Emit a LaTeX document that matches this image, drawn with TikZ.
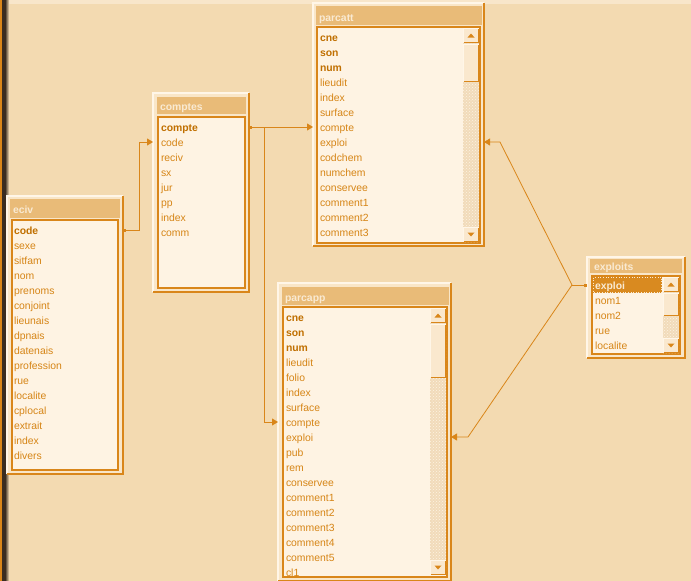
\documentclass[tikz,border=0pt]{standalone}
\usepackage{fontspec}
\newfontfamily\tbfont{Liberation Sans}
\usetikzlibrary{arrows.meta,patterns}
\definecolor{bgc}{HTML}{F3DAB1}
\definecolor{topc}{HTML}{F8E6CA}
\definecolor{darkc}{HTML}{3A2C20}
\definecolor{linec}{HTML}{D9861A}
\definecolor{framec}{HTML}{F9E6C8}
\definecolor{lightc}{HTML}{FFF6E8}
\definecolor{titlec}{HTML}{E9BB78}
\definecolor{ttltext}{HTML}{F9EAD3}
\definecolor{listc}{HTML}{FEF3E3}
\definecolor{fldc}{HTML}{D68516}
\definecolor{keyc}{HTML}{C06F00}
\definecolor{trackc}{HTML}{F1DBBA}
\definecolor{btnc}{HTML}{FAE8CE}
\definecolor{selc}{HTML}{D98A20}
\tikzset{
 tframe/.style={fill=framec, inner sep=0pt, outer sep=0pt},
 edgelight/.style={draw=lightc, line width=1.5pt},
 edgedark/.style={draw=linec, line width=1.5pt},
 listbox/.style={fill=listc, draw=linec, line width=1.2pt},
 fld/.style={anchor=base west, inner sep=0pt, outer sep=0pt, text height=9pt, text depth=1pt, text=fldc, font=\tbfont\fontsize{10.4}{12}\selectfont},
 keyfld/.style={fld, text=keyc, font=\tbfont\bfseries\fontsize{10.4}{12}\selectfont},
 ttl/.style={fld, text=ttltext, font=\tbfont\bfseries\fontsize{10.4}{12}\selectfont},
 lnk/.style={draw=linec, line width=1pt},
 diag/.style={draw=linec, line width=0.8pt},
 tip/.style={-{Triangle[length=6pt,width=7pt]}},
 tailtip/.style={{Square[length=3pt,width=3pt]}-{Triangle[length=6pt,width=7pt]}},
 tailonly/.style={{Square[length=3pt,width=3pt]}-},
}
\newcommand\dbframe[5]{%
  \node[tframe, minimum width={(#4-#2)*1pt}, minimum height={(#5-#3)*1pt}, anchor=north west] (#1) at (#2,#3) {};
  \draw[edgelight] (#1.south west) -- (#1.north west) -- (#1.north east);
  \draw[edgedark] (#1.south west) -- (#1.south east) -- (#1.north east);
}
\newcommand\sbtn[4]{%
  \fill[btnc] (#1,#3) rectangle (#2,#4);
  \draw[draw=lightc, line width=1pt] (#1+0.5,#4-0.5) -- (#1+0.5,#3+0.5) -- (#2-0.5,#3+0.5);
  \draw[draw=linec, line width=1pt] (#1+0.5,#4-0.5) -- (#2-0.5,#4-0.5) -- (#2-0.5,#3+0.5);
}
\newcommand\sbar[6]{%
  \fill[trackc] (#1,#3) rectangle (#2,#6);
  \fill[pattern=crosshatch dots, pattern color=listc] (#1,#3) rectangle (#2,#6);
  \sbtn{#1}{#2}{#3}{#3+15}
  \fill[linec] ({(#1+#2)/2-3.5},#3+9.5) -- ({(#1+#2)/2+3.5},#3+9.5) -- ({(#1+#2)/2},#3+5.5) -- cycle;
  \sbtn{#1}{#2}{#4}{#5}
  \sbtn{#1}{#2}{#6-15}{#6}
  \fill[linec] ({(#1+#2)/2-3.5},#6-9.5) -- ({(#1+#2)/2+3.5},#6-9.5) -- ({(#1+#2)/2},#6-5.5) -- cycle;
}
\begin{document}
\begin{tikzpicture}[x=1pt,y=-1pt]
\useasboundingbox (0,0) rectangle (691,581);
% background
\fill[bgc] (0,0) rectangle (691,581);
\fill[topc] (0,0) rectangle (691,4);
\fill[linec] (0,0) rectangle (1.5,581);
\fill[darkc] (1.5,0) rectangle (5,581);
\shade[left color=darkc, right color=bgc] (5,0) rectangle (9,581);

% ---------- eciv ----------
\dbframe{eciv}{7}{196}{123}{474}
\fill[titlec] (10,199) rectangle (120,218);
\node[ttl] (eciv-title) at (13,213) {eciv};
\filldraw[listbox] (12,220) rectangle (118,470);
\node[keyfld] (eciv-code) at (14,234) {code};
\foreach \t [count=\i] in {sexe,sitfam,nom,prenoms,conjoint,lieunais,dpnais,datenais,profession,rue,localite,cplocal,extrait,index,divers}
  \node[fld] (eciv-\t) at (14,234+15*\i) {\t};

% ---------- comptes ----------
\dbframe{comptes}{153}{93}{249}{292}
\fill[titlec] (157,97) rectangle (246,114);
\node[ttl] (comptes-title) at (160,110) {comptes};
\filldraw[listbox] (158,117) rectangle (245,288);
\node[keyfld] (comptes-compte) at (161,131) {compte};
\foreach \t [count=\i] in {code,reciv,sx,jur,pp,index,comm}
  \node[fld] (comptes-\t) at (161,131+15*\i) {\t};

% ---------- parcatt ----------
\dbframe{parcatt}{313}{3}{484}{246}
\fill[titlec] (316,6) rectangle (482,25);
\node[ttl] (parcatt-title) at (319,21) {parcatt};
\filldraw[listbox] (317,27) rectangle (480,243);
\foreach \t [count=\i from 0] in {cne,son,num}
  \node[keyfld] (parcatt-\t) at (320,41+15*\i) {\t};
\foreach \t [count=\i from 3] in {lieudit,index,surface,compte,exploi,codchem,numchem,conservee,comment1,comment2,comment3}
  \node[fld] (parcatt-\t) at (320,41+15*\i) {\t};
\sbar{463}{479}{28}{44}{82}{242}

% ---------- parcapp ----------
\dbframe{parcapp}{278}{283}{451}{581}
\fill[titlec] (282,287) rectangle (449,305);
\node[ttl] (parcapp-title) at (285,301) {parcapp};
\filldraw[listbox] (283,307) rectangle (447,577);
\begin{scope}
\clip (283,307) rectangle (447,576);
\foreach \t [count=\i from 0] in {cne,son,num}
  \node[keyfld] (parcapp-\t) at (286,321+15*\i) {\t};
\foreach \t [count=\i from 3] in {lieudit,folio,index,surface,compte,exploi,pub,rem,conservee,comment1,comment2,comment3,comment4,comment5,cl1}
  \node[fld] (parcapp-\t) at (286,321+15*\i) {\t};
\end{scope}
\sbar{430}{446}{308}{324}{378}{575}

% ---------- exploits ----------
\dbframe{exploits}{587}{257}{685}{358}
\fill[titlec] (590,259) rectangle (682,273);
\node[ttl] (exploits-title) at (594,270) {exploits};
\filldraw[listbox] (592,276) rectangle (680,354);
\fill[selc] (593,277) rectangle (662,293);
\draw[ttltext, dotted, line width=0.6pt] (593.5,277.5) rectangle (661.5,292.5);
\node[ttl] (exploits-exploi) at (595,289) {exploi};
\foreach \t [count=\i] in {nom1,nom2,rue,localite}
  \node[fld] (exploits-\t) at (595,289+15*\i) {\t};
\sbar{663}{679}{277}{293}{316}{353}

% ---------- connectors ----------
\draw[lnk, tailtip] (eciv.east |- eciv-code) -- ++(16,0) |- (comptes.west |- comptes-code);
\draw[lnk, tailtip] (comptes.east |- comptes-compte) -- (parcatt.west |- comptes-compte);
\draw[lnk, tip] (comptes.east |- comptes-compte) -- ++(15,0) |- (parcapp.west |- parcapp-compte);
\coordinate (hub) at ([xshift=-15pt]exploits.west |- exploits-exploi);
\draw[lnk, tailonly] (exploits.west |- exploits-exploi) -- (hub);
\draw[diag, tip] (hub) -- ([xshift=16pt]parcatt.east |- parcatt-exploi) -- (parcatt.east |- parcatt-exploi);
\draw[diag, tip] (hub) -- ([xshift=17pt]parcapp.east |- parcapp-exploi) -- (parcapp.east |- parcapp-exploi);
\end{tikzpicture}
\end{document}
